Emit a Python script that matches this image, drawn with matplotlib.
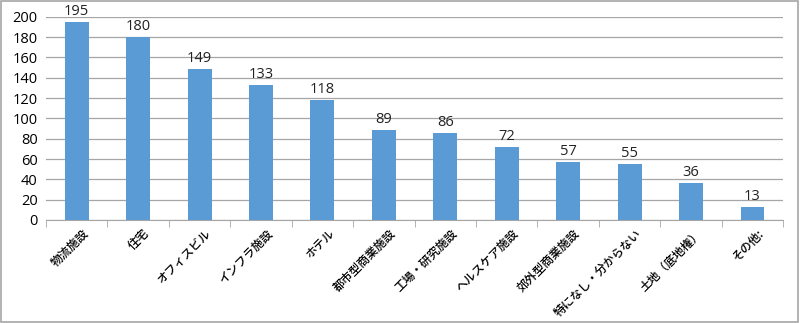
import matplotlib
matplotlib.use("Agg")
import matplotlib.pyplot as plt
from matplotlib.patches import Rectangle

plt.rcParams['font.family'] = ['Noto Sans CJK JP', 'DejaVu Sans']

categories = ["物流施設", "住宅", "オフィスビル", "インフラ施設", "ホテル", "都市型商業施設",
              "工場・研究施設", "ヘルスケア施設", "郊外型商業施設", "特になし・分からない",
              "土地（底地権）", "その他:"]
values = [195, 180, 149, 133, 118, 89, 86, 72, 57, 55, 36, 13]
yticks = [0, 20, 40, 60, 80, 100, 120, 140, 160, 180, 200]

fig = plt.figure(figsize=(8, 3.23), dpi=100)
ax = fig.add_axes([0.0575, 0.319, 0.9215, 0.629])

x = list(range(len(categories)))
bars = ax.bar(x, values, width=0.39, color="#5B9BD5", zorder=3)
for xi, v in zip(x, values):
    ax.text(xi, v + 3, str(v), ha="center", va="bottom", fontsize=10.5,
            family=["Open Sans", "DejaVu Sans"], color="#222222")

ax.set_xlim(-0.5, len(categories) - 0.5)
ax.set_ylim(0, 200)
ax.set_yticks(yticks)
ax.set_yticklabels([str(t) for t in yticks], fontsize=10.5, family=["Open Sans", "DejaVu Sans"])
ax.yaxis.grid(True, color="#A6A6A6", linewidth=0.9, zorder=0)
ax.tick_params(axis="y", length=0, pad=6)

ax.set_xticks([i - 0.5 for i in range(len(categories) + 1)], minor=True)
ax.set_xticks([xi + 0.08 for xi in x])
ax.set_xticklabels(categories, rotation=45, ha="right", va="top", rotation_mode="anchor",
                   fontsize=8.5, fontweight="medium")
ax.tick_params(axis="x", which="major", length=0, pad=5)
ax.tick_params(axis="x", which="minor", length=5, color="#A6A6A6")

for s in ["top", "right", "left"]:
    ax.spines[s].set_visible(False)
ax.spines["bottom"].set_color("#A6A6A6")

fig.patches.append(Rectangle((0.001, 0.002), 0.997, 0.995, transform=fig.transFigure,
                             fill=False, edgecolor="#A6A6A6", linewidth=1.2))

fig.savefig("out.png", dpi=100)
